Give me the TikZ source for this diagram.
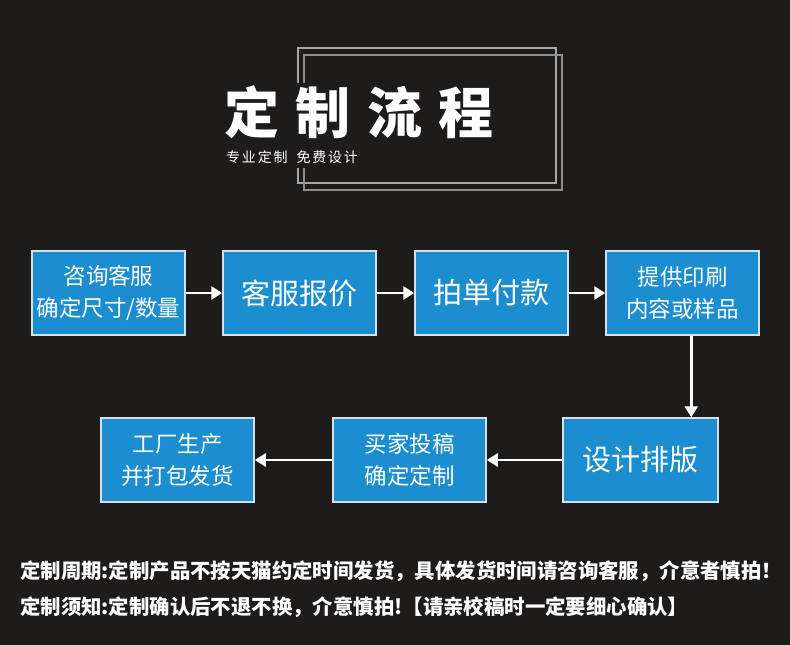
\documentclass[tikz,border=0pt]{standalone}
\usepackage{fontspec}
\setmainfont{Noto Sans CJK SC}
\usetikzlibrary{arrows.meta}
\definecolor{bg}{HTML}{1E1B1B}
\definecolor{boxblue}{HTML}{1C8DCF}
\definecolor{boxedge}{HTML}{D6E2EA}
\definecolor{frameA}{HTML}{A6A6A6}
\definecolor{frameB}{HTML}{8E8E8E}
\tikzset{
  flowbox/.style={draw=boxedge, line width=1.5pt, fill=boxblue, text=white,
    minimum width=153pt, minimum height=84pt, inner sep=0pt, align=center,
    font=\fontsize{22.5}{32}\selectfont},
  bigtext/.style={font=\fontsize{29}{34}\selectfont},
  arr/.style={draw=white, line width=2.6pt, -{Triangle[width=13pt,length=11pt]}},
  notetext/.style={text=white, anchor=west, inner sep=0pt, font=\bfseries\fontsize{20.4}{24}\selectfont},
  framelineA/.style={draw=frameA, line width=1.8pt},
  framelineB/.style={draw=frameB, line width=1.8pt}
}
\begin{document}
\begin{tikzpicture}[x=1pt,y=-1pt]
\fill[bg] (0,0) rectangle (790,645);
\useasboundingbox (0,0) rectangle (790,645);
% title frames
\draw[framelineA] (298,83) -- (298,48) -- (556,48) -- (556,183) -- (298,183) -- (298,168);
\draw[framelineB] (304,83) -- (304,55) -- (562,55) -- (562,190) -- (304,190) -- (304,168);
% title
\node[text=white, anchor=west, inner sep=0pt, font=\bfseries\fontsize{55}{60}\selectfont] (title) at (224,112)
  {定\hspace{16.5pt}制\hspace{16.5pt}流\hspace{16.5pt}程};
\node[text=white, anchor=west, inner sep=0pt, font=\fontsize{14}{16}\selectfont] (subtitle) at (226,157)
  {专\hspace{1.8pt}业\hspace{1.8pt}定\hspace{1.8pt}制\hspace{9pt}免\hspace{1.8pt}费\hspace{1.8pt}设\hspace{1.8pt}计};
% row 1
\node[flowbox] (b1) at (108.5,293) {咨询客服\\确定尺寸/数量};
\node[flowbox, bigtext] (b2) at (299.5,293) {客服报价};
\node[flowbox, bigtext] (b3) at (491.5,293) {拍单付款};
\node[flowbox] (b4) at (682.5,293) {提供印刷\\内容或样品};
% row 2
\node[flowbox, minimum width=155pt, bigtext] (b5) at (640.5,460) {设计排版};
\node[flowbox] (b6) at (409.5,460) {买家投稿\\确定定制};
\node[flowbox] (b7) at (177.5,460) {工厂生产\\并打包发货};
% arrows
\draw[arr] (b1.east) -- (b2.west);
\draw[arr] (b2.east) -- (b3.west);
\draw[arr] (b3.east) -- (b4.west);
\path (b4.south west) ++(86,0) coordinate (vs);
\draw[arr] (vs) -- (vs |- b5.north);
\draw[arr] (b5.west) -- (b6.east);
\draw[arr] (b6.west) -- (b7.east);
% notes
\node[notetext] (n1) at (20,571) {定制周期:定制产品不按天猫约定时间发货，具体发货时间请咨询客服，介意者慎拍！};
\node[notetext] (n2) at (20,607) {定制须知:定制确认后不退不换，介意慎拍!【请亲校稿时一定要细心确认】};
\end{tikzpicture}
\end{document}
